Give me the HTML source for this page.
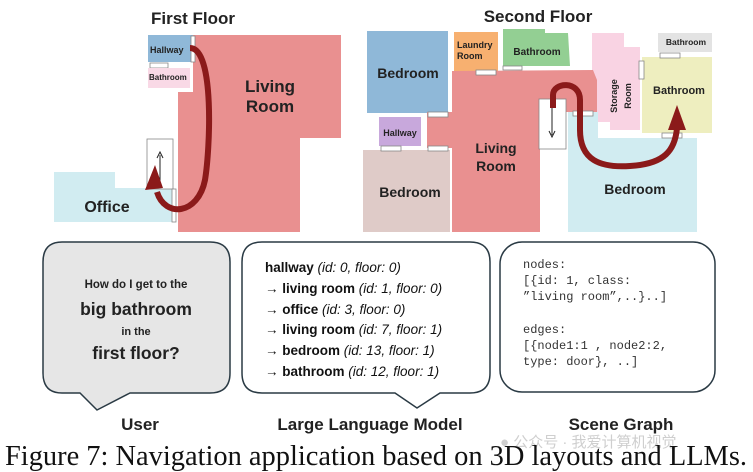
<!DOCTYPE html>
<html><head><meta charset="utf-8"><style>
body{margin:0;background:#fff;width:753px;height:472px;overflow:hidden}
svg{display:block}
.b{font-family:"Liberation Sans",sans-serif;font-weight:bold;fill:#222}
.m{font-family:"Liberation Mono",monospace;font-size:12px;fill:#333}
.t{font-family:"Liberation Sans",sans-serif;font-size:13.5px;fill:#111}
</style></head><body>
<svg width="753" height="472" viewBox="0 0 753 472" xmlns="http://www.w3.org/2000/svg">
<!-- First floor -->
<text x="193" y="24" class="b" font-size="17" text-anchor="middle">First Floor</text>
<rect x="148" y="35" width="45" height="27" fill="#8fb8d8"/>
<text x="150" y="53" class="b" font-size="9">Hallway</text>
<rect x="150" y="63" width="18" height="5" fill="#fff" stroke="#888" stroke-width="0.8"/>
<rect x="148" y="68" width="42" height="20" fill="#f9d9e6"/>
<text x="149" y="80" class="b" font-size="8">Bathroom</text>
<path d="M193,35 L341,35 L341,138 L300,138 L300,232 L178,232 L178,92 L193,92 Z" fill="#e99090"/>
<rect x="191" y="36" width="4" height="26" fill="#fff" stroke="#888" stroke-width="0.8"/>
<text x="270" y="92" class="b" font-size="17" text-anchor="middle">Living</text>
<text x="270" y="112" class="b" font-size="17" text-anchor="middle">Room</text>
<path d="M54,172 L115,172 L115,188 L173,188 L173,222 L54,222 Z" fill="#d1ecf1"/>
<rect x="147" y="139" width="26" height="50" fill="#fff" stroke="#888" stroke-width="0.8"/>
<line x1="160" y1="185" x2="160" y2="155" stroke="#222" stroke-width="1"/>
<path d="M157,158 L160,152 L163,158" fill="none" stroke="#222" stroke-width="1"/>
<rect x="172" y="189" width="4" height="33" fill="#fff" stroke="#888" stroke-width="0.8"/>
<text x="107" y="212" class="b" font-size="16" text-anchor="middle">Office</text>
<path d="M190,48 C215,48 210,150 205,180 C198,215 165,218 157,192" fill="none" stroke="#8b1a1a" stroke-width="6"/>
<path d="M145,190 L155,165 L163,188 Z" fill="#8b1a1a"/>
<!-- Second floor -->
<text x="538" y="22" class="b" font-size="17" text-anchor="middle">Second Floor</text>
<rect x="367" y="31" width="81" height="82" fill="#8fb8d8"/>
<text x="408" y="78" class="b" font-size="14" text-anchor="middle">Bedroom</text>
<rect x="454" y="32" width="44" height="39" fill="#f7b070"/>
<text x="457" y="48" class="b" font-size="9">Laundry</text>
<text x="457" y="59" class="b" font-size="9">Room</text>
<path d="M503,29 L545,29 L545,33 L568,33 L570,66 L503,66 Z" fill="#93cf93"/>
<text x="537" y="55" class="b" font-size="10" text-anchor="middle">Bathroom</text>
<path d="M592,33 L624,33 L624,47 L640,47 L640,130 L610,130 L610,122 L592,122 Z" fill="#f9d3e3"/>
<text transform="translate(617,96) rotate(-90)" class="b" font-size="9" text-anchor="middle">Storage</text>
<text transform="translate(631,96) rotate(-90)" class="b" font-size="9" text-anchor="middle">Room</text>
<rect x="658" y="33" width="54" height="19" fill="#e3e3e3"/>
<text x="686" y="45" class="b" font-size="8.5" text-anchor="middle">Bathroom</text>
<rect x="642" y="57" width="70" height="76" fill="#eeeebf"/>
<text x="679" y="94" class="b" font-size="11" text-anchor="middle">Bathroom</text>
<rect x="379" y="117" width="42" height="29" fill="#c8a8dc"/>
<text x="400" y="136" class="b" font-size="9" text-anchor="middle">Hallway</text>
<rect x="363" y="150" width="87" height="82" fill="#dfcbc8"/>
<text x="410" y="197" class="b" font-size="14" text-anchor="middle">Bedroom</text>
<path d="M452,71 L593,70 L597,80 L597,112 L566,112 L566,149 L540,149 L540,232 L452,232 L452,148 L427,148 L427,112 L452,112 Z" fill="#e99090"/>
<rect x="539" y="99" width="27" height="50" fill="#fff" stroke="#888" stroke-width="0.8"/>
<line x1="552" y1="103" x2="552" y2="135" stroke="#222" stroke-width="1"/>
<path d="M549,131 L552,137 L555,131" fill="none" stroke="#222" stroke-width="1"/>
<text x="496" y="153" class="b" font-size="14" text-anchor="middle">Living</text>
<text x="496" y="171" class="b" font-size="14" text-anchor="middle">Room</text>
<path d="M568,112 L598,112 L598,138 L697,138 L697,232 L568,232 Z" fill="#d1ecf1"/>
<text x="635" y="194" class="b" font-size="14" text-anchor="middle">Bedroom</text>
<g fill="#fff" stroke="#888" stroke-width="0.8">
<rect x="476" y="70" width="20" height="5"/><rect x="503" y="66" width="19" height="4"/>
<rect x="428" y="112" width="20" height="5"/><rect x="428" y="146" width="20" height="5"/><rect x="381" y="146" width="20" height="5"/>
<rect x="573" y="111" width="20" height="5"/><rect x="660" y="53" width="20" height="5"/><rect x="639" y="61" width="5" height="18"/><rect x="662" y="133" width="20" height="5"/>
</g>
<path d="M553,108 L553,95 C553,82 580,80 580,100 L580,130 C580,160 600,168 630,166 C665,164 675,150 677,128" fill="none" stroke="#8b1a1a" stroke-width="6"/>
<path d="M668,130 L677,105 L686,130 Z" fill="#8b1a1a"/>
<!-- Bubbles -->
<path d="M62,242 L210,242 Q230,242 230,262 L230,373 Q230,393 210,393 L130,393 L97,410 L80,393 L62,393 Q43,393 43,373 L43,262 Q43,242 62,242 Z" fill="#e6e6e6" stroke="#2a3a44" stroke-width="1.5"/>
<text x="136" y="288" class="b" font-size="11.5" text-anchor="middle">How do I get to the</text>
<text x="136" y="315" class="b" font-size="17.5" text-anchor="middle">big bathroom</text>
<text x="136" y="335" class="b" font-size="11" text-anchor="middle">in the</text>
<text x="136" y="359" class="b" font-size="17.5" text-anchor="middle">first floor?</text>
<path d="M262,242 L470,242 Q490,242 490,262 L490,373 Q490,393 470,393 L440,393 L417,408 L395,393 L262,393 Q242,393 242,373 L242,262 Q242,242 262,242 Z" fill="#fff" stroke="#2a3a44" stroke-width="1.5"/>
<g class="t">
<text x="265" y="272"><tspan font-weight="bold">hallway</tspan> <tspan font-style="italic">(id: 0, floor: 0)</tspan></text>
<text x="265" y="293">→ <tspan font-weight="bold">living room</tspan> <tspan font-style="italic">(id: 1, floor: 0)</tspan></text>
<text x="265" y="314">→ <tspan font-weight="bold">office</tspan> <tspan font-style="italic">(id: 3, floor: 0)</tspan></text>
<text x="265" y="334">→ <tspan font-weight="bold">living room</tspan> <tspan font-style="italic">(id: 7, floor: 1)</tspan></text>
<text x="265" y="355">→ <tspan font-weight="bold">bedroom</tspan> <tspan font-style="italic">(id: 13, floor: 1)</tspan></text>
<text x="265" y="376">→ <tspan font-weight="bold">bathroom</tspan> <tspan font-style="italic">(id: 12, floor: 1)</tspan></text>
</g>
<rect x="500" y="242" width="215" height="150" rx="22" fill="#fff" stroke="#2a3a44" stroke-width="1.5"/>
<g class="m">
<text x="523" y="268">nodes:</text>
<text x="523" y="284">[{id: 1, class:</text>
<text x="523" y="300">”living room”,..}..]</text>
<text x="523" y="333">edges:</text>
<text x="523" y="349">[{node1:1 , node2:2,</text>
<text x="523" y="365">type: door}, ..]</text>
</g>
<text x="140" y="430" class="b" font-size="17" text-anchor="middle">User</text>
<text x="370" y="430" class="b" font-size="17" text-anchor="middle">Large Language Model</text>
<text x="621" y="430" class="b" font-size="17" text-anchor="middle">Scene Graph</text>
<text x="500" y="447" font-family="'Liberation Sans','Noto Sans CJK SC',sans-serif" font-size="15" fill="#cfcfcf">● 公众号 · 我爱计算机视觉</text>
<text x="5" y="465" font-family="'Liberation Serif',serif" font-size="28" fill="#111" textLength="742" lengthAdjust="spacingAndGlyphs">Figure 7: Navigation application based on 3D layouts and LLMs.</text>
</svg>
</body></html>
